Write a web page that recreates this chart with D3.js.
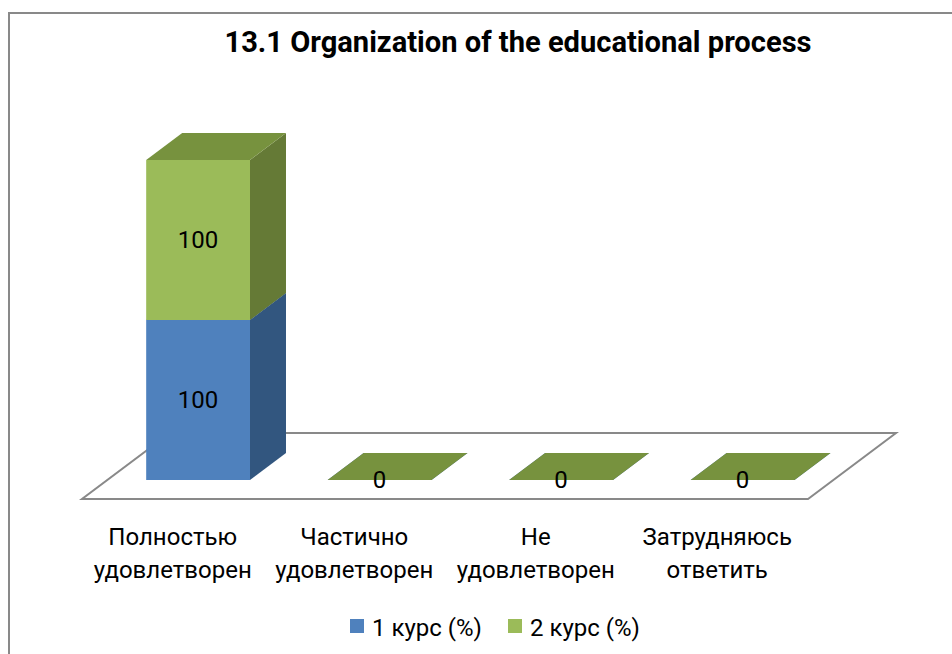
<!DOCTYPE html>
<html>
<head>
<meta charset="utf-8">
<script src="https://cdn.jsdelivr.net/npm/d3@7"></script>
<style>
  body { margin: 0; background: #fff; }
  text { font-family: Roboto, "Noto Sans", sans-serif; fill: #000; }
</style>
</head>
<body>
<div id="chart"></div>
<script>
// chart data
var categories = [["Полностью", "удовлетворен"], ["Частично", "удовлетворен"], ["Не", "удовлетворен"], ["Затрудняюсь", "ответить"]];
var seriesNames = ["1 курс (%)", "2 курс (%)"];
var course1 = [100, 0, 0, 0];
var course2 = [100, 0, 0, 0];
var chartTitle = "13.1 Organization of the educational process";

var width = 952, height = 654;

// floor of the 3D plot (front edge) and depth offsets
var floor = { x0: 82, x1: 808, y: 499, dx: 88, dy: -66 };
var barDepth = [0.288, 0.697];   // front / back of bars as fraction of floor depth

var colors = {
  front: ["#4F81BD", "#9BBB59"],
  side:  ["#32567F", "#657A36"],
  top:   ["#3F6898", "#77923E"]
};

var svg = d3.select("#chart").append("svg")
  .attr("width", width)
  .attr("height", height);

// outer border
svg.append("rect")
  .attr("x", 9).attr("y", 13)
  .attr("width", 960).attr("height", 700)
  .attr("fill", "#fff")
  .attr("stroke", "#898989")
  .attr("stroke-width", 2);

// title
var title = svg.append("text")
  .attr("x", 518).attr("y", 52)
  .attr("text-anchor", "middle")
  .style("font-weight", "bold")
  .style("font-size", "28px")
  .text(chartTitle);
// squeeze the title to the width it has in the original
var tLen = title.node().getComputedTextLength();
if (tLen > 0) title.style("font-size", (28 * 587 / tLen).toFixed(1) + "px");

// table + stack
var table = categories.map(function(c, i) {
  return { cat: c.join(" "), s0: course1[i], s1: course2[i] };
});
var stacked = d3.stack().keys(["s0", "s1"])(table);

// scales
var x = d3.scaleBand()
  .domain(table.map(function(d) { return d.cat; }))
  .range([floor.x0, floor.x1])
  .paddingInner(0.428)
  .paddingOuter(0.214);

var y = d3.scaleLinear().domain([0, 200]).range([0, 320]);

// projection of (x in front plane, value, depth fraction) to screen
function proj(px, v, d) {
  return [px + d * floor.dx, floor.y - y(v) + d * floor.dy];
}
function poly(pts) { return pts.map(function(p) { return p.join(","); }).join(" "); }

// floor
svg.append("polygon")
  .attr("points", poly([proj(floor.x0, 0, 0), proj(floor.x1, 0, 0), proj(floor.x1, 0, 1), proj(floor.x0, 0, 1)]))
  .attr("fill", "#fff")
  .attr("stroke", "#898989")
  .attr("stroke-width", 2);

var df = barDepth[0], db = barDepth[1];
var bars = svg.append("g");

stacked.forEach(function(layer, si) {
  layer.forEach(function(seg, ci) {
    var xl = x(table[ci].cat), xr = xl + x.bandwidth();
    var v0 = seg[0], v1 = seg[1];
    var g = bars.append("g");
    // right side face
    g.append("polygon")
      .attr("points", poly([proj(xr, v0, df), proj(xr, v0, db), proj(xr, v1, db), proj(xr, v1, df)]))
      .attr("fill", colors.side[si]);
    // front face
    g.append("polygon")
      .attr("points", poly([proj(xl, v0, df), proj(xr, v0, df), proj(xr, v1, df), proj(xl, v1, df)]))
      .attr("fill", colors.front[si]);
    // top face
    g.append("polygon")
      .attr("points", poly([proj(xl, v1, df), proj(xr, v1, df), proj(xr, v1, db), proj(xl, v1, db)]))
      .attr("fill", colors.top[si]);
  });
});

// data labels (one per position: zero bars share the same spot)
var labelsDone = {};
stacked.forEach(function(layer) {
  layer.forEach(function(seg, ci) {
    var cx = x(table[ci].cat) + x.bandwidth() / 2;
    var mid = (seg[0] + seg[1]) / 2;
    var p = proj(cx, mid, df);
    var key = ci + "_" + mid;
    if (labelsDone[key]) return;
    labelsDone[key] = true;
    svg.append("text")
      .attr("x", p[0]).attr("y", p[1])
      .attr("dy", "0.35em")
      .attr("text-anchor", "middle")
      .style("font-size", "24px")
      .text(seg[1] - seg[0]);
  });
});

// category labels along the front edge of the floor
var catG = svg.append("g");
categories.forEach(function(lines, ci) {
  var cx = x(table[ci].cat) + x.bandwidth() / 2;
  var t = catG.append("text")
    .attr("x", cx).attr("y", 545)
    .attr("text-anchor", "middle")
    .style("font-size", "24px");
  lines.forEach(function(line, li) {
    t.append("tspan")
      .attr("x", cx)
      .attr("dy", li === 0 ? 0 : 33)
      .text(line);
  });
});

// legend
var legendX = [350, 508];
var legend = svg.append("g");
seriesNames.forEach(function(name, i) {
  legend.append("rect")
    .attr("x", legendX[i]).attr("y", 619)
    .attr("width", 14).attr("height", 14)
    .attr("fill", colors.front[i]);
  legend.append("text")
    .attr("x", legendX[i] + 22).attr("y", 628)
    .attr("dy", "0.35em")
    .style("font-size", "24px")
    .text(name);
});
</script>
</body>
</html>
